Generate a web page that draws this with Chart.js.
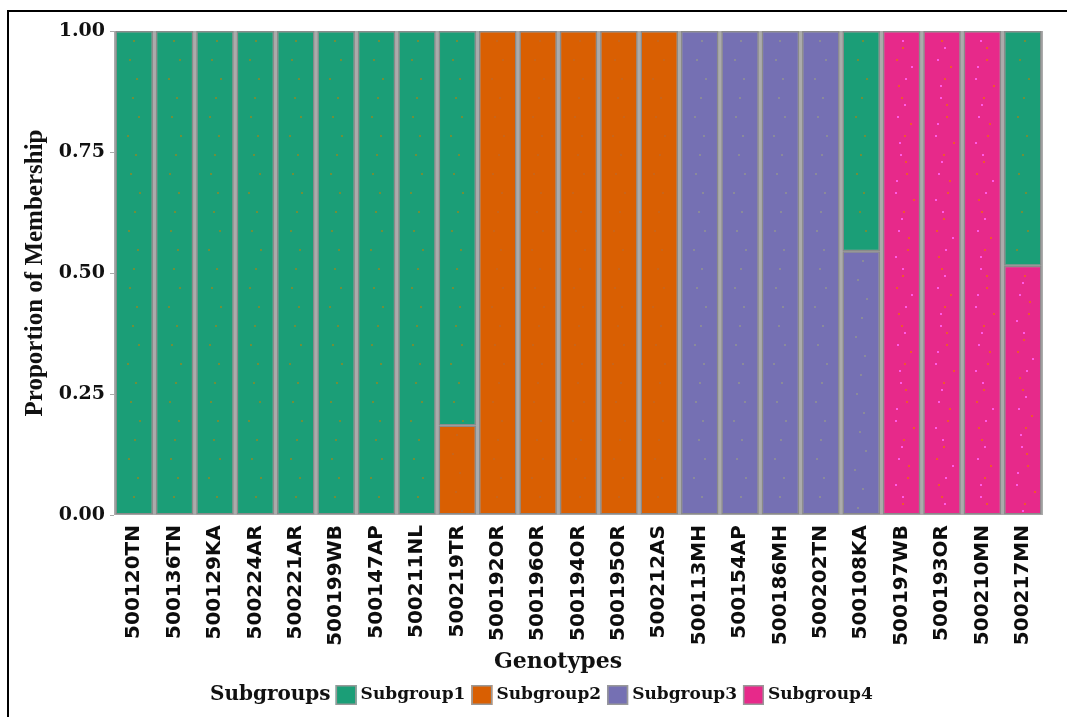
<!DOCTYPE html>
<html>
<head>
<meta charset="utf-8">
<script src="https://cdn.jsdelivr.net/npm/chart.js@4.4.1/dist/chart.umd.min.js"></script>
<style>
  html, body { margin: 0; padding: 0; background: #fff; }
  #wrap { width: 1067px; height: 717px; position: relative; }
</style>
</head>
<body>
<div id="wrap"><canvas id="c" width="1067" height="717"></canvas></div>
<script>
const genotypes = ['500120TN','500136TN','500129KA','500224AR','500221AR','500199WB','500147AP','500211NL','500219TR','500192OR','500196OR','500194OR','500195OR','500212AS','500113MH','500154AP','500186MH','500202TN','500108KA','500197WB','500193OR','500210MN','500217MN'];
const subgroup1 = [1,1,1,1,1,1,1,1,0.815,0,0,0,0,0,0,0,0,0,0.455,0,0,0,0.485];
const subgroup2 = [0,0,0,0,0,0,0,0,0.185,1,1,1,1,1,0,0,0,0,0,0,0,0,0];
const subgroup3 = [0,0,0,0,0,0,0,0,0,0,0,0,0,0,1,1,1,1,0.545,0,0,0,0];
const subgroup4 = [0,0,0,0,0,0,0,0,0,0,0,0,0,0,0,0,0,0,0,1,1,1,0.515];
const yTicks = [0, 0.25, 0.5, 0.75, 1.0];
const groupNames = ['Subgroup1','Subgroup2','Subgroup3','Subgroup4'];
const groupColors = ['#1b9e77','#d95f02','#7570b3','#e7298a'];
const dotColors = [['#6f8f3a'], ['#c8641a'], ['#8a8a9a'], ['#f2552e', '#ff5ae6']];

const SERIF = '"DejaVu Serif", serif';

const framePlugin = {
  id: 'frame',
  beforeDraw(chart) {
    const {ctx, chartArea} = chart;
    ctx.save();
    ctx.fillStyle = '#fff';
    ctx.fillRect(0, 0, chart.width, chart.height);
    ctx.strokeStyle = '#000';
    ctx.lineWidth = 2;
    ctx.beginPath();
    ctx.moveTo(8, 717);
    ctx.lineTo(8, 11);
    ctx.lineTo(1067, 11);
    ctx.stroke();
    ctx.fillStyle = '#ababab';
    ctx.fillRect(chartArea.left, chartArea.top, chartArea.right - chartArea.left, chartArea.bottom - chartArea.top);
    ctx.restore();
  }
};

// subtle dotted texture inside each bar segment (decoration only)
const xJitter = [0, -4, 3, -1, 5, -6, 2, -3, 6, 1, -5, 4];
const texturePlugin = {
  id: 'texture',
  afterDatasetsDraw(chart) {
    const ctx = chart.ctx;
    ctx.save();
    chart.data.datasets.forEach((ds, di) => {
      const meta = chart.getDatasetMeta(di);
      const cols = dotColors[ds.groupIndex];
      meta.data.forEach((bar, bi) => {
        const top = Math.min(bar.y, bar.base), bot = Math.max(bar.y, bar.base);
        if (bot - top < 8) return;
        let k = bi * 3;
        for (let yy = top + 9; yy < bot - 4; yy += 19) {
          const j = xJitter[k % xJitter.length];
          ctx.fillStyle = cols[k % cols.length];
          ctx.fillRect(Math.round(bar.x + j) - 1, Math.round(yy), 2, 2);
          if (cols.length > 1) {
            ctx.fillStyle = cols[(k + 1) % cols.length];
            ctx.fillRect(Math.round(bar.x - j * 1.5 + 3) - 1, Math.round(yy + 7), 2, 2);
          }
          k++;
        }
      });
    });
    ctx.restore();
  }
};

const legendPlugin = {
  id: 'customLegend',
  afterDraw(chart) {
    const ctx = chart.ctx;
    ctx.save();
    ctx.fillStyle = '#111';
    ctx.textBaseline = 'middle';
    ctx.textAlign = 'center';
    ctx.font = 'bold 22px ' + SERIF;
    ctx.fillText('Genotypes', 558, 662);
    ctx.textAlign = 'left';
    const cy = 695;
    ctx.font = 'bold 20px ' + SERIF;
    let x = 210;
    ctx.fillText('Subgroups', x, cy);
    x += ctx.measureText('Subgroups').width + 5;
    ctx.font = 'bold 17px ' + SERIF;
    groupNames.forEach((name, i) => {
      ctx.fillStyle = groupColors[i];
      ctx.fillRect(x, cy - 10, 21, 20);
      ctx.strokeStyle = '#999';
      ctx.lineWidth = 1.5;
      ctx.strokeRect(x + 0.75, cy - 9.25, 19.5, 18.5);
      x += 25;
      ctx.fillStyle = '#111';
      ctx.fillText(name, x, cy);
      x += ctx.measureText(name).width + 6;
    });
    ctx.restore();
  }
};

const series = [subgroup4, subgroup3, subgroup2, subgroup1];
const seriesIdx = [3, 2, 1, 0];
const datasets = series.map((d, k) => ({
  label: groupNames[seriesIdx[k]],
  groupIndex: seriesIdx[k],
  data: d,
  backgroundColor: groupColors[seriesIdx[k]],
  borderColor: '#8a8a8a',
  borderWidth: 1.5,
  borderSkipped: false,
  barPercentage: 0.93,
  categoryPercentage: 1.0
}));

new Chart(document.getElementById('c'), {
  type: 'bar',
  data: { labels: genotypes, datasets },
  plugins: [framePlugin, texturePlugin, legendPlugin],
  options: {
    responsive: false,
    animation: false,
    layout: { padding: { left: 0, right: 24, top: 31, bottom: 0 } },
    plugins: { legend: { display: false }, tooltip: { enabled: false } },
    scales: {
      x: {
        stacked: true,
        grid: { display: false },
        border: { display: false },
        ticks: {
          autoSkip: false, minRotation: 90, maxRotation: 90, padding: 2,
          color: '#0d0d0d',
          font: { family: '"DejaVu Sans", sans-serif', weight: 'bold', size: 20 }
        },
        title: { display: false, text: 'Genotypes' },
        afterFit(s) { s.height = 202; }
      },
      y: {
        stacked: true,
        min: 0, max: 1,
        afterBuildTicks(s) { s.ticks = yTicks.map(v => ({ value: v })); },
        grid: { drawOnChartArea: false, drawTicks: true, tickLength: 4, color: '#aaa' },
        border: { display: false },
        ticks: {
          padding: 5, color: '#111',
          font: { family: SERIF, weight: 'bold', size: 19 },
          callback: v => Number(v).toFixed(2)
        },
        title: {
          display: true, text: 'Proportion of Membership', color: '#111',
          font: { family: '"Liberation Serif", serif', weight: 'bold', size: 25 },
          padding: { top: 21, bottom: 0 }
        },
        afterFit(s) { s.width = 114; }
      }
    }
  }
});
</script>
</body>
</html>
